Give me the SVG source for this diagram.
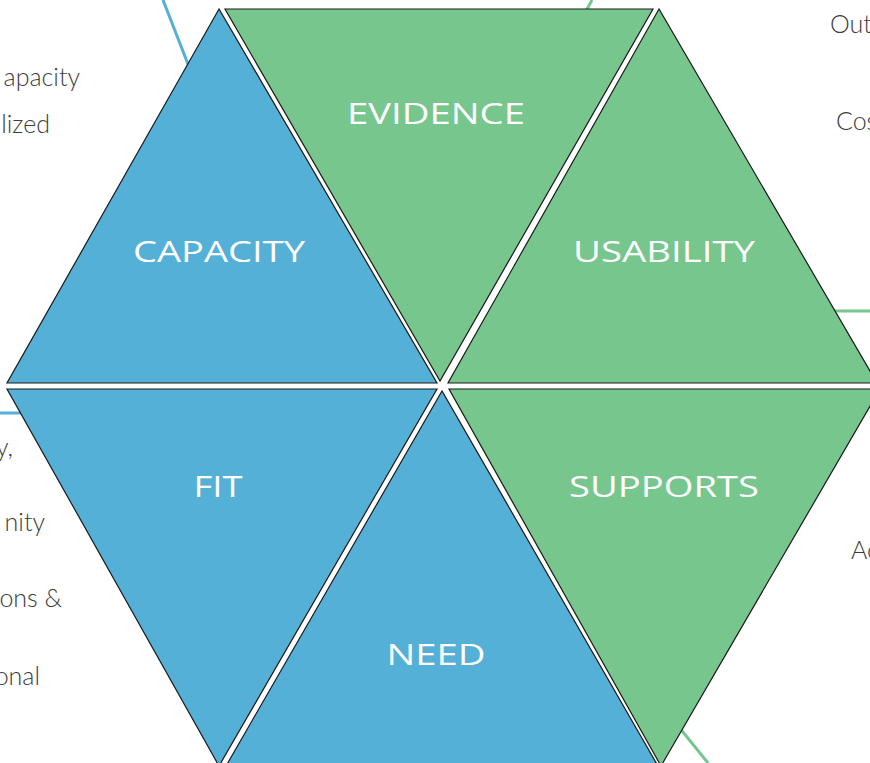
<svg xmlns="http://www.w3.org/2000/svg" width="870" height="763" viewBox="0 0 870 763">
  <style>
    .blue { fill: #54B0D6; stroke: #1a1a1a; stroke-width: 1.2; stroke-linejoin: miter; }
    .green { fill: #77C68E; stroke: #1a1a1a; stroke-width: 1.2; stroke-linejoin: miter; }
    .lbl { font-family: "Open Sans", "Liberation Sans", sans-serif; font-size: 30px; fill: #ffffff; text-anchor: middle; }
    .side { font-family: "Lato", "Open Sans", "Liberation Sans", sans-serif; font-weight: 300; font-size: 25px; fill: #3c3c3c; }
    .end { text-anchor: end; }
    .lb { stroke: #54B0D6; stroke-width: 3; fill: none; }
    .lg { stroke: #77C68E; stroke-width: 3; fill: none; }
  </style>
  <rect width="870" height="763" fill="#ffffff"/>
  <g id="connectors">
    <line class="lb" x1="163" y1="0" x2="200" y2="95"/>
    <line class="lb" x1="0" y1="413" x2="40" y2="413"/>
    <line class="lg" x1="592" y1="0" x2="570" y2="40"/>
    <line class="lg" x1="820" y1="311" x2="870" y2="311"/>
    <line class="lg" x1="670" y1="716" x2="708" y2="763"/>
  </g>
  <g id="side-texts">
    <text class="side end" x="80" y="86">apacity</text>
    <text class="side end" x="50" y="133">lized</text>
    <text class="side end" x="13" y="456">y,</text>
    <text class="side end" x="45" y="531">nity</text>
    <text class="side end" x="62" y="607">ons &amp;</text>
    <text class="side end" x="40" y="685">onal</text>
    <text class="side" x="830" y="33">Out</text>
    <text class="side" x="836" y="130">Cos</text>
    <text class="side" x="851" y="559">Ac</text>
  </g>
  <g id="capacity">
    <polygon class="blue" points="219,9 7,383 437,383"/>
    <text class="lbl" x="219" y="262" textLength="172" lengthAdjust="spacingAndGlyphs">CAPACITY</text>
  </g>
  <g id="evidence">
    <polygon class="green" points="225,9 653,9 440,381"/>
    <text class="lbl" x="436" y="124" textLength="178" lengthAdjust="spacingAndGlyphs">EVIDENCE</text>
  </g>
  <g id="usability">
    <polygon class="green" points="659,9 448,383 877,383"/>
    <text class="lbl" x="664" y="262" textLength="182" lengthAdjust="spacingAndGlyphs">USABILITY</text>
  </g>
  <g id="fit">
    <polygon class="blue" points="7,389 437,389 219,766"/>
    <text class="lbl" x="218" y="497" textLength="49" lengthAdjust="spacingAndGlyphs">FIT</text>
  </g>
  <g id="need">
    <polygon class="blue" points="442,391 226,766 658,766"/>
    <text class="lbl" x="436" y="665" textLength="99" lengthAdjust="spacingAndGlyphs">NEED</text>
  </g>
  <g id="supports">
    <polygon class="green" points="449,389 880,389 661,766"/>
    <text class="lbl" x="664" y="497" textLength="190" lengthAdjust="spacingAndGlyphs">SUPPORTS</text>
  </g>
</svg>
